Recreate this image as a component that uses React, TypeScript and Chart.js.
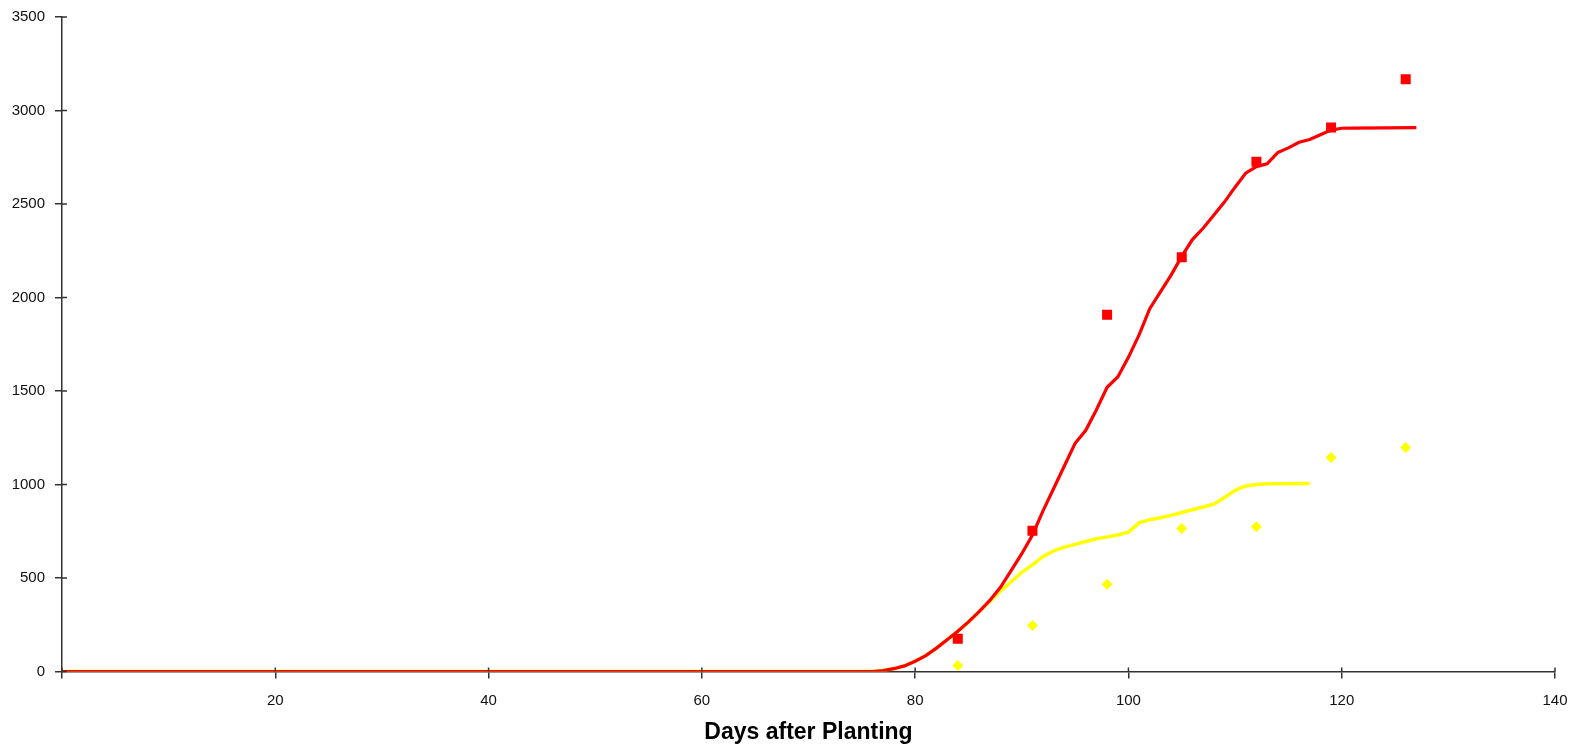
import { useEffect, useRef } from 'react';
import { Chart, registerables } from 'chart.js';

Chart.register(...registerables);

// Simulated (line) series
const simRedDays = [0, 76, 77, 78, 79, 80, 81, 82, 83, 84, 85, 86, 87, 88, 89, 90, 91, 92, 93, 94, 95, 96, 97, 98, 99, 100, 101, 102, 103, 104, 105, 106, 107, 108, 109, 110, 111, 112, 113, 114, 115, 116, 117, 118, 119, 120, 121, 127];
const simRed = [0, 0, 5, 15, 30, 55, 85, 125, 170, 215, 265, 320, 380, 450, 540, 630, 730, 860, 980, 1100, 1220, 1290, 1400, 1520, 1575, 1680, 1800, 1940, 2030, 2120, 2220, 2310, 2370, 2440, 2510, 2590, 2665, 2700, 2715, 2775, 2800, 2830, 2845, 2870, 2895, 2905, 2906, 2908];

const simYellowDays = [0, 76, 77, 78, 79, 80, 81, 82, 83, 84, 85, 86, 87, 88, 89, 90, 91, 92, 93, 94, 95, 96, 97, 98, 99, 100, 101, 102, 103, 104, 105, 106, 107, 108, 109, 110, 111, 112, 113, 117];
const simYellow = [0, 0, 5, 15, 30, 55, 85, 125, 170, 215, 265, 320, 375, 430, 480, 530, 570, 615, 645, 665, 680, 695, 710, 720, 730, 745, 795, 812, 822, 835, 850, 865, 880, 895, 930, 969, 992, 1000, 1004, 1005];

// Observed (marker) series
const obsDays = [84, 91, 98, 105, 112, 119, 126];
const obsRed = [175, 753, 1908, 2215, 2726, 2909, 3167];
const obsYellow = [32, 246, 466, 765, 774, 1144, 1198];

const xAxisTitle = 'Days after Planting';

const AXIS = '#333333';
const FONT = "'Liberation Sans', Arial, sans-serif";

const toPts = (xs: number[], ys: number[]) => xs.map((x, i) => ({ x, y: ys[i] }));

const innerTicks = {
  id: 'innerTicks',
  afterDraw(chart: any) {
    const { ctx, chartArea, scales } = chart;
    ctx.save();
    ctx.strokeStyle = AXIS;
    ctx.lineWidth = 1.5;
    scales.x.ticks.forEach((t: any) => {
      const px = scales.x.getPixelForValue(t.value);
      ctx.beginPath();
      ctx.moveTo(px, chartArea.bottom);
      ctx.lineTo(px, chartArea.bottom - 4);
      ctx.stroke();
    });
    scales.y.ticks.forEach((t: any) => {
      const py = scales.y.getPixelForValue(t.value);
      ctx.beginPath();
      ctx.moveTo(chartArea.left, py);
      ctx.lineTo(chartArea.left + 5, py);
      ctx.stroke();
    });
    ctx.restore();
  },
};

export default function App() {
  const ref = useRef<HTMLCanvasElement | null>(null);

  useEffect(() => {
    if (!ref.current) return;
    const chart = new Chart(ref.current, {
      type: 'scatter',
      data: {
        datasets: [
          {
            label: 'Sim red',
            data: toPts(simRedDays, simRed),
            showLine: true,
            borderColor: '#FF0000',
            borderWidth: 3.2,
            pointRadius: 0,
            order: 1,
          },
          {
            label: 'Sim yellow',
            data: toPts(simYellowDays, simYellow),
            showLine: true,
            borderColor: '#FFFF00',
            borderWidth: 3.5,
            pointRadius: 0,
            order: 2,
          },
          {
            label: 'Obs red',
            data: toPts(obsDays, obsRed),
            showLine: false,
            pointStyle: 'rect',
            pointRadius: 7.07,
            backgroundColor: '#FF0000',
            borderWidth: 0,
            order: 0,
          },
          {
            label: 'Obs yellow',
            data: toPts(obsDays, obsYellow),
            showLine: false,
            pointStyle: 'rectRot',
            pointRadius: 5.5,
            backgroundColor: '#FFFF00',
            borderWidth: 0,
            order: 0,
          },
        ],
      },
      options: {
        animation: false,
        responsive: true,
        maintainAspectRatio: false,
        layout: { padding: { top: 17, right: 16, left: 0, bottom: 0 } },
        plugins: { legend: { display: false }, tooltip: { enabled: false } },
        scales: {
          x: {
            type: 'linear',
            min: 0,
            max: 140,
            z: 1,
            afterFit: (s: any) => {
              s.height = 73.5;
              s.paddingLeft = 0;
              s.paddingRight = 0;
            },
            ticks: {
              stepSize: 20,
              padding: 13,
              color: '#111',
              font: { family: FONT, size: 15 },
              maxRotation: 0,
              callback: (v: any) => (v === 0 ? '' : String(v)),
            },
            grid: {
              drawOnChartArea: false,
              drawTicks: true,
              tickLength: 7,
              color: AXIS,
              lineWidth: 1.5,
            },
            border: { display: true, color: AXIS, width: 1.5 },
            title: {
              display: true,
              text: xAxisTitle,
              color: '#000',
              font: { family: FONT, size: 23, weight: 'bold', lineHeight: 1 },
              padding: { top: 0, bottom: 1 },
            },
          },
          y: {
            type: 'linear',
            min: 0,
            max: 3500,
            z: 1,
            afterFit: (s: any) => {
              s.width = 62;
              s.paddingTop = 0;
              s.paddingBottom = 0;
            },
            ticks: {
              stepSize: 500,
              padding: 10,
              color: '#111',
              font: { family: FONT, size: 15 },
              callback: (v: any) => String(v),
            },
            grid: {
              drawOnChartArea: false,
              drawTicks: true,
              tickLength: 7,
              color: AXIS,
              lineWidth: 1.5,
            },
            border: { display: true, color: AXIS, width: 1.5 },
          },
        },
      },
      plugins: [innerTicks],
    } as any);
    return () => chart.destroy();
  }, []);

  return (
    <div style={{ position: 'fixed', left: 0, top: 0, width: 1571, height: 745, background: '#fff' }}>
      <canvas ref={ref} />
    </div>
  );
}
